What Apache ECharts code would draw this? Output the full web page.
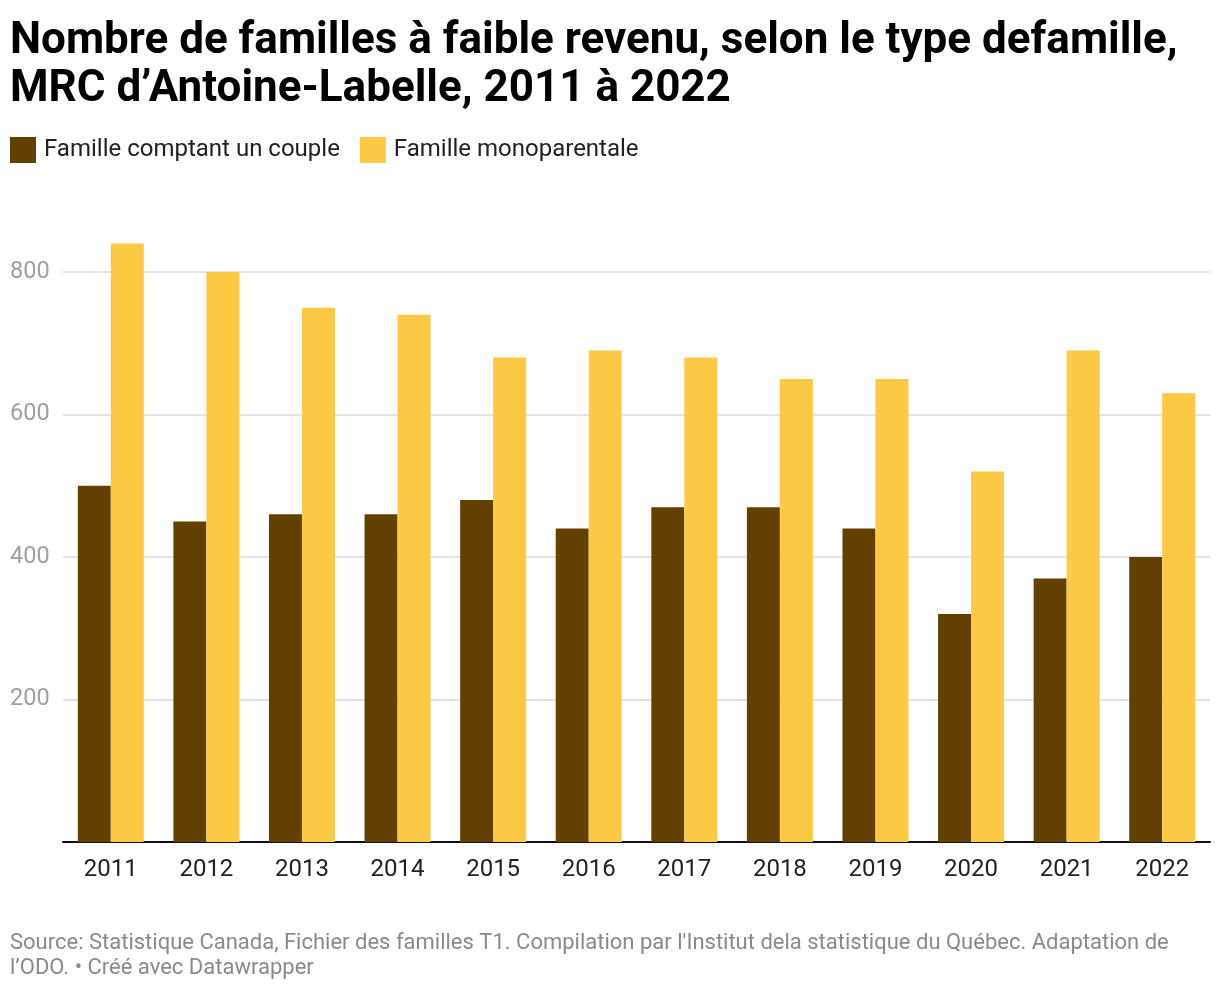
<!DOCTYPE html>
<html><head><meta charset="utf-8">
<script src="https://cdn.jsdelivr.net/npm/echarts@6/dist/echarts.min.js"></script>
<style>html,body{margin:0;padding:0;background:#fff}#c{width:1220px;height:990px}</style>
</head><body><div id="c"></div>
<script>
const years = ['2011','2012','2013','2014','2015','2016','2017','2018','2019','2020','2021','2022'];
const couple = [500,450,460,460,480,440,470,470,440,320,370,400];
const mono = [840,800,750,740,680,690,680,650,650,520,690,630];
const yTicks = [0,200,400,600,800];

const chart = echarts.init(document.getElementById('c'));
chart.setOption({
  backgroundColor:'#fff',
  animation:false,
  textStyle:{fontFamily:'Roboto'},
  title:[{
    text:'Nombre de familles à faible revenu, selon le type defamille,\nMRC d’Antoine-Labelle, 2011 à 2022',
    left:10, top:18, padding:0,
    textStyle:{fontFamily:'Roboto',fontWeight:'bold',fontSize:44,lineHeight:48,color:'#000'}
  },{
    text:'Source: Statistique Canada, Fichier des familles T1. Compilation par l\'Institut dela statistique du Québec. Adaptation de\nl’ODO. • Créé avec Datawrapper',
    left:10, top:931, padding:0,
    textStyle:{fontFamily:'Roboto',fontWeight:'normal',fontSize:22,lineHeight:25,color:'#8a8a8a'}
  }],
  legend:{
    left:10, top:137, padding:0, itemWidth:26, itemHeight:26, itemGap:20, icon:'rect',
    textStyle:{fontFamily:'Roboto',fontSize:24,color:'#222',padding:[0,0,0,3]},
    data:['Famille comptant un couple','Famille monoparentale']
  },
  grid:{left:63,right:10,top:243.5,bottom:148,containLabel:false},
  xAxis:{
    type:'category', data:years,
    axisLine:{lineStyle:{color:'#111',width:2}},
    axisTick:{show:false},
    axisLabel:{fontFamily:'Roboto',fontSize:24,color:'#222',margin:16}
  },
  yAxis:{
    type:'value', min:0, max:840, interval:200,
    axisLine:{show:false}, axisTick:{show:false},
    axisLabel:{fontFamily:'Roboto',fontSize:23.5,color:'#a0a0a0',align:'left',margin:53,
      formatter:v=> yTicks.includes(v) && v!==0 ? String(v) : ''},
    splitLine:{show:true,lineStyle:{width:2,color:['rgba(0,0,0,0)','#e3e3e3','#e3e3e3','#e3e3e3','#e3e3e3','rgba(0,0,0,0)']}}
  },
  series:[{
    name:'Famille comptant un couple', type:'bar', data:couple,
    itemStyle:{color:'#624000'}, barGap:'0%', barCategoryGap:'31%'
  },{
    name:'Famille monoparentale', type:'bar', data:mono,
    itemStyle:{color:'#fcc944'}, barGap:'0%', barCategoryGap:'31%'
  }]
});
</script></body></html>
